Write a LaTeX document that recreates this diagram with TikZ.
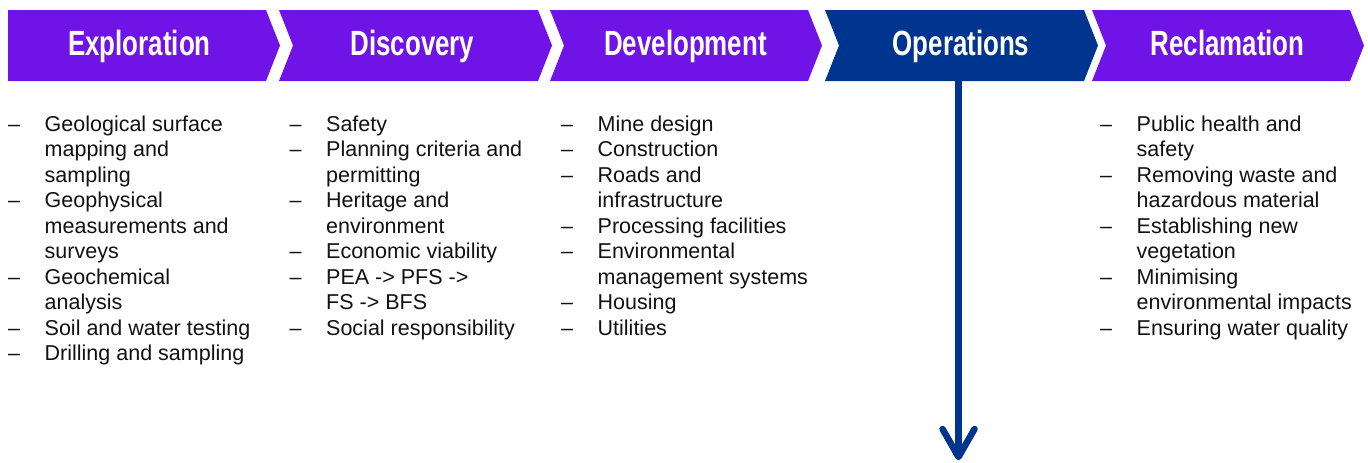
\documentclass[tikz,border=0pt]{standalone}
\usepackage{fontspec}
\setmainfont{Liberation Sans}
\newfontfamily\headfont[FakeStretch=0.74,BoldFont={Liberation Sans Bold}]{Liberation Sans}
\usetikzlibrary{calc}
\definecolor{purp}{HTML}{7013E6}
\definecolor{opblue}{HTML}{00358F}
\definecolor{bodytext}{HTML}{111111}
\begin{document}
\begin{tikzpicture}[x=1pt,y=-1pt,
  chevp/.style={fill=purp},
  chevb/.style={fill=opblue},
  head/.style={anchor=base,text=white,inner sep=0pt,font=\headfont\bfseries\fontsize{35}{40}\selectfont},
  col/.style={anchor=base west,inner sep=0pt,text=bodytext,font=\fontsize{21.5}{25.5}\selectfont},
  oparrow/.style={draw=opblue,line width=6.5pt,line cap=round,line join=round}]
\useasboundingbox (0,0) rectangle (1368,463);
% chevrons
\fill[chevp] (8,10) -- (266,10) -- (280,45.5) -- (266,81) -- (8,81) -- cycle;
\fill[chevp] (279,10) -- (538,10) -- (552,45.5) -- (538,81) -- (279,81) -- (293,45.5) -- cycle;
\fill[chevp] (550,10) -- (808,10) -- (822,45.5) -- (808,81) -- (550,81) -- (564,45.5) -- cycle;
\fill[chevb] (825,10) -- (1084,10) -- (1098,45.5) -- (1084,81) -- (825,81) -- (839,45.5) -- cycle;
\fill[chevp] (1092,10) -- (1350,10) -- (1364,45.5) -- (1350,81) -- (1092,81) -- (1106,45.5) -- cycle;
% headings
\node[head] (explo) at (139.5,55.5) {Exploration};
\node[head] (disc) at (412.5,55.5) {Discovery};
\node[head] (devel) at (685.5,55.5) {Development};
\node[head] (oper) at (961,55.5) {Operations};
\node[head] (recl) at (1227.5,55.5) {Reclamation};
% arrow
\coordinate (opbot) at (958.5,81);
\coordinate (optip) at (958.5,457);
\draw[oparrow,line cap=butt] (opbot) -- (optip);
\draw[oparrow] ($(optip)+(-16,-28)$) -- (optip) -- ($(optip)+(16,-28)$);
% columns
\node[col] (c1) at (8,131) {\begin{tabular}[t]{@{}p{36.5pt}@{}l@{}}
–&Geological surface\\ &mapping and\\ &sampling\\
–&Geophysical\\ &measurements and\\ &surveys\\
–&Geochemical\\ &analysis\\
–&Soil and water testing\\
–&Drilling and sampling
\end{tabular}};
\node[col] (c2) at (289.5,131) {\begin{tabular}[t]{@{}p{36.5pt}@{}l@{}}
–&Safety\\
–&Planning criteria and\\ &permitting\\
–&Heritage and\\ &environment\\
–&Economic viability\\
–&PEA -> PFS ->\\ &FS -> BFS\\
–&Social responsibility
\end{tabular}};
\node[col] (c3) at (561,131) {\begin{tabular}[t]{@{}p{36.5pt}@{}l@{}}
–&Mine design\\
–&Construction\\
–&Roads and\\ &infrastructure\\
–&Processing facilities\\
–&Environmental\\ &management systems\\
–&Housing\\
–&Utilities
\end{tabular}};
\node[col] (c4) at (1100,131) {\begin{tabular}[t]{@{}p{36.5pt}@{}l@{}}
–&Public health and\\ &safety\\
–&Removing waste and\\ &hazardous material\\
–&Establishing new\\ &vegetation\\
–&Minimising\\ &environmental impacts\\
–&Ensuring water quality
\end{tabular}};
\end{tikzpicture}
\end{document}
